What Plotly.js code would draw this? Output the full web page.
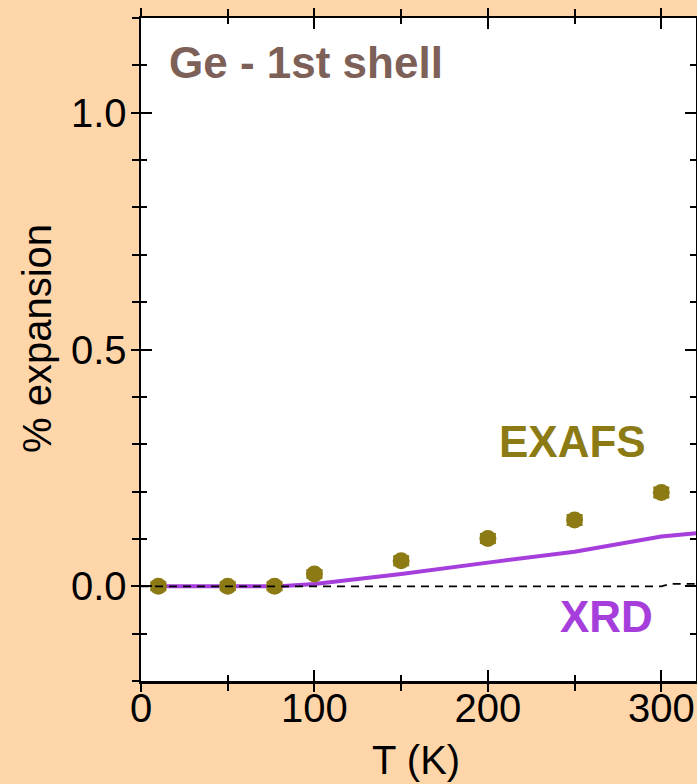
<!DOCTYPE html>
<html>
<head>
<meta charset="utf-8">
<script src="https://cdn.plot.ly/plotly-3.0.1.min.js"></script>
<style>html,body{margin:0;padding:0;background:#FFD6AA;}</style>
</head>
<body>
<div id="chart" style="width:697px;height:784px;"></div>
<script>
// EXAFS data (Ge - 1st shell)
const exafsT = [10, 50, 77, 100, 150, 200, 250, 300];
const exafsExp = [0.0, 0.0, 0.0, 0.026, 0.054, 0.101, 0.140, 0.198];
const exafsErr = [0.008, 0.008, 0.008, 0.008, 0.009, 0.009, 0.010, 0.010];
// XRD curve
const xrdT = [10, 50, 80, 100, 150, 200, 250, 300, 320];
const xrdExp = [0.0, 0.0, 0.0, 0.005, 0.026, 0.05, 0.073, 0.105, 0.112];
// zero reference (dashed)
const refT = [0, 300, 305, 320];
const refExp = [0, 0, 0.005, 0.005];

const font = '"Liberation Sans", Arial, Helvetica, sans-serif';
const olive = '#8C7A14';
const purple = '#A63EDC';
const brown = '#7D6058';

const traces = [
  {x: xrdT, y: xrdExp, mode: 'lines', line: {color: purple, width: 4}, showlegend: false},
  {x: exafsT, y: exafsExp, mode: 'markers', marker: {color: olive, size: 17, symbol: 'circle'},
   error_y: {type: 'data', array: exafsErr, color: olive, thickness: 2.5, width: 8}, showlegend: false},
  {x: refT, y: refExp, mode: 'lines', line: {color: 'black', width: 1.8, dash: '8px,6px'}, hoverinfo: 'skip', showlegend: false},
  {x: [], y: [], xaxis: 'x2', yaxis: 'y2', showlegend: false}
];

const common = {linecolor: 'black', linewidth: 2.5, showgrid: false, zeroline: false, mirror: 'ticks', tickcolor: 'black', tickwidth: 2};

const layout = {
  width: 697, height: 784,
  margin: {l: 141, r: 1, t: 18, b: 103},
  paper_bgcolor: '#FFD6AA',
  plot_bgcolor: 'white',
  font: {family: font, color: 'black', size: 40},
  xaxis: Object.assign({}, common, {
    range: [0, 320], tick0: 0, dtick: 100, ticks: 'outside', ticklen: 8, ticklabelstandoff: -18,
    minor: {dtick: 50, ticks: 'outside', ticklen: 7, tickwidth: 2, tickcolor: 'black'},
    tickfont: {size: 40, family: font}
  }),
  yaxis: Object.assign({}, common, {
    range: [-0.2, 1.2], tick0: 0, dtick: 0.5, tickformat: '.1f', ticks: 'outside', ticklen: 8, ticklabelstandoff: -4,
    minor: {dtick: 0.1, ticks: 'outside', ticklen: 7, tickwidth: 2, tickcolor: 'black'},
    tickfont: {size: 40, family: font}
  }),
  xaxis2: {overlaying: 'x', anchor: 'y2', range: [0, 320], tick0: 0, dtick: 100, ticks: 'inside', ticklen: 11,
    tickwidth: 2, tickcolor: 'black', mirror: 'ticks', showline: false, showgrid: false, zeroline: false, showticklabels: false,
    minor: {dtick: 50, ticks: 'inside', ticklen: 6, tickwidth: 2, tickcolor: 'black'}},
  yaxis2: {overlaying: 'y', anchor: 'x2', range: [-0.2, 1.2], tick0: 0, dtick: 0.5, ticks: 'inside', ticklen: 11,
    tickwidth: 2, tickcolor: 'black', mirror: 'ticks', showline: false, showgrid: false, zeroline: false, showticklabels: false,
    minor: {dtick: 0.1, ticks: 'inside', ticklen: 6, tickwidth: 2, tickcolor: 'black'}},
  annotations: [
    {text: '% expansion', x: -0.1874, y: 0.5173, xref: 'paper', yref: 'paper', showarrow: false, textangle: -90,
     xanchor: 'center', yanchor: 'middle', font: {size: 40, color: 'black', family: font}},
    {text: 'T (K)', x: 0.4946, y: -0.1192, xref: 'paper', yref: 'paper', showarrow: false,
     xanchor: 'center', yanchor: 'middle', font: {size: 40, color: 'black', family: font}},
    {text: '<b>Ge - 1st shell</b>', x: 95, y: 1.107, xref: 'x', yref: 'y', showarrow: false,
     xanchor: 'center', yanchor: 'middle', font: {size: 44, color: brown, family: font}},
    {text: '<b>EXAFS</b>', x: 249, y: 0.306, xref: 'x', yref: 'y', showarrow: false,
     xanchor: 'center', yanchor: 'middle', font: {size: 44, color: olive, family: font}},
    {text: '<b>XRD</b>', x: 268.6, y: -0.063, xref: 'x', yref: 'y', showarrow: false,
     xanchor: 'center', yanchor: 'middle', font: {size: 44, color: purple, family: font}}
  ]
};

Plotly.newPlot('chart', traces, layout, {displayModeBar: false, staticPlot: true});
</script>
</body>
</html>
